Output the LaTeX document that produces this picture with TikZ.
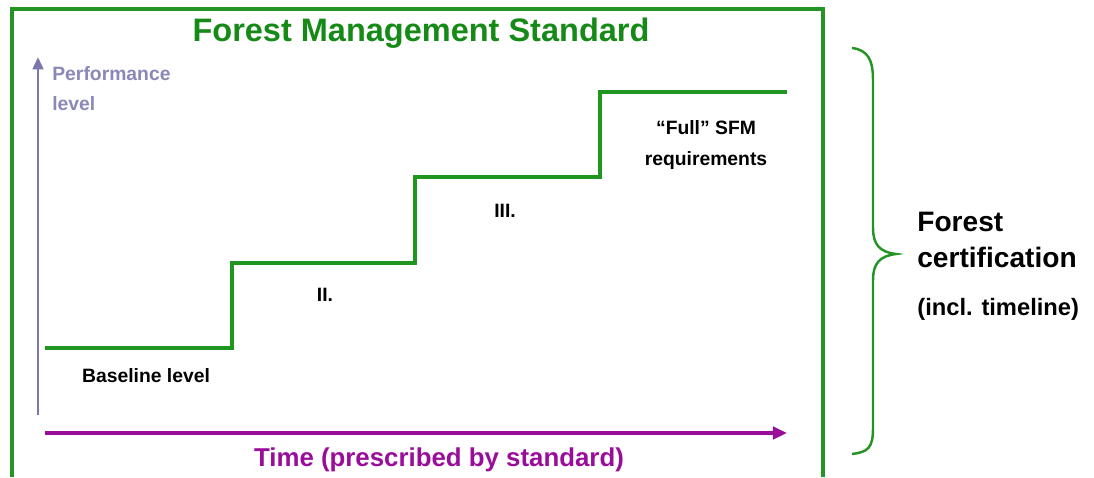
\documentclass[tikz,border=0pt]{standalone}
\usepackage{fontspec}
\setmainfont{Liberation Sans}
\usetikzlibrary{arrows}
\usetikzlibrary{arrows.meta}

\definecolor{framegreen}{HTML}{249424}
\definecolor{titlegreen}{HTML}{168A16}
\definecolor{stepgreen}{HTML}{1F961F}
\definecolor{timepurple}{HTML}{9A0C9A}
\definecolor{axisslate}{HTML}{7A76AE}
\definecolor{labelslate}{HTML}{8A88B8}

\tikzset{
  frame/.style={draw=framegreen, line width=2pt},
  stairs/.style={draw=stepgreen, line width=2pt},
  smalllabel/.style={font=\fontsize{11}{18}\selectfont\bfseries, align=center, inner sep=0pt},
}

\begin{document}
\begin{tikzpicture}[x=0.02cm,y=-0.02cm]
    \useasboundingbox (0,0) rectangle (1094,477);
    % frame of the standard, open at the bottom
    \draw[frame] (12,477) |- (823,9) -- (823,477);
    \node[text=titlegreen, font=\fontsize{18.5}{20}\selectfont\bfseries] (title) at (421,33) {Forest Management Standard};

    % axes
    \coordinate (yfoot) at (38,415);
    \coordinate (ytip) at (38,57);
    \draw[axisslate, line width=1.6pt, -{Triangle[length=7pt,width=6pt]}] (yfoot) -- (ytip);
    \node[text=labelslate, font=\fontsize{11}{17}\selectfont\bfseries, align=left, anchor=north west, inner sep=0pt] (perf) at (52,66) {Performance\\level};
    \coordinate (xfoot) at (45,433);
    \coordinate (xtip) at (787,433);
    \draw[timepurple, line width=2pt, -{Triangle[length=8pt,width=7pt]}] (xfoot) -- (xtip);
    \node[text=timepurple, font=\fontsize{14.7}{16}\selectfont\bfseries] (time) at (439,460) {Time (prescribed by standard)};

    % steps
    \coordinate (base) at (45,348);
    \coordinate (stepA) at (232,263);
    \coordinate (stepB) at (415,177);
    \coordinate (stepC) at (600,92);
    \coordinate (top) at (787,92);
    \draw[stairs] (base) -| (stepA) -| (stepB) -| (stepC) -- (top);
    \node[smalllabel] (baseline) at (146,376) {Baseline level};
    \node[smalllabel] (two) at (325,295) {II.};
    \node[smalllabel] (three) at (505,211) {III.};
    \node[smalllabel] (full) at (706,145) {``Full'' SFM\\requirements};

    % brace and certification
    \draw[framegreen, line width=1.4pt] (852,48) .. controls (868,50) and (873,60) .. (873,80) -- (873,228)
        .. controls (873,245) and (880,252) .. (896,254) .. controls (880,256) and (873,263) .. (873,280)
        -- (873,428) .. controls (873,448) and (868,452) .. (852,454);
    \node[font=\fontsize{16}{20.5}\selectfont\bfseries, align=left, anchor=west, inner sep=0pt] (cert) at (917,240) {Forest\\certification};
    \node[font=\fontsize{13.5}{16}\selectfont\bfseries, anchor=west, inner sep=0pt] (incl) at (917,309) {(incl. timeline)};
\end{tikzpicture}
\end{document}
